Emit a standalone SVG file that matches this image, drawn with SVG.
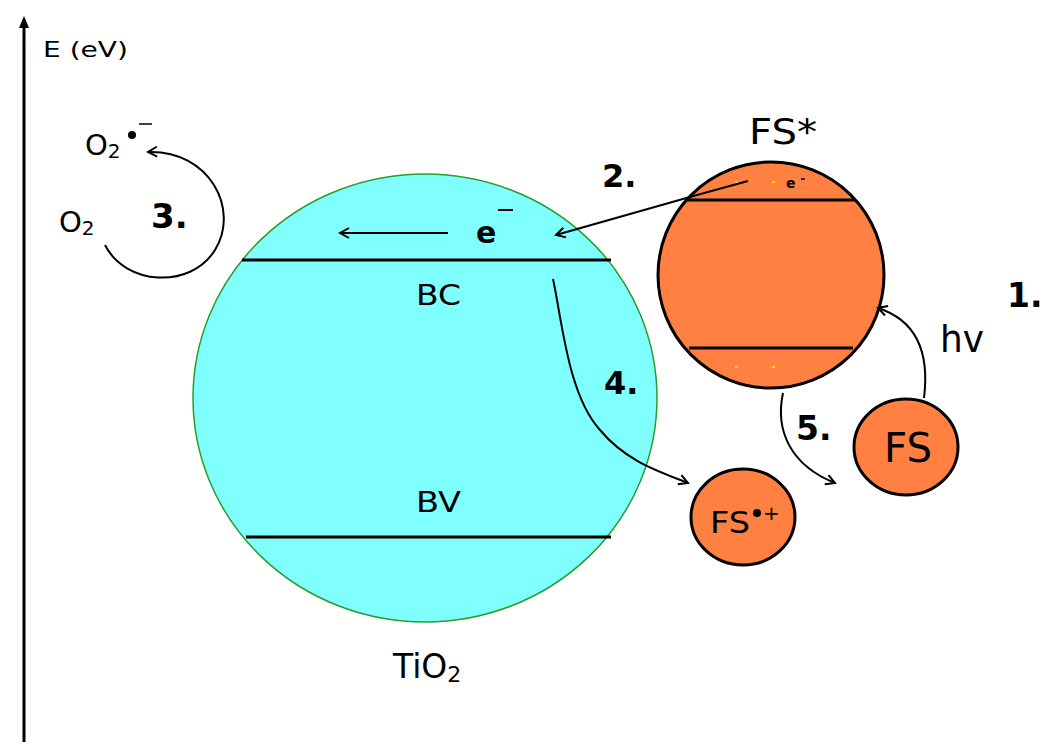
<svg xmlns="http://www.w3.org/2000/svg" width="1055" height="742" viewBox="0 0 1055 742">
<defs>
<marker id="ah" markerWidth="12" markerHeight="12" refX="10" refY="6" orient="auto" markerUnits="userSpaceOnUse">
<path d="M1,1 L10,6 L1,11" fill="none" stroke="#000" stroke-width="2"/>
</marker>
<marker id="tri" markerWidth="12" markerHeight="12" refX="6" refY="6" orient="auto" markerUnits="userSpaceOnUse">
<path d="M0,1 L12,6 L0,11 z" fill="#000"/>
</marker>
</defs>
<style>
text{font-family:"DejaVu Sans",Verdana,sans-serif;fill:#000}
.b{font-weight:bold}
.ln{stroke:#000;stroke-width:3;fill:none}
.c{stroke:#000;stroke-width:2;fill:none}
.org{fill:#FF8040;stroke:#000;stroke-width:3}
.y{fill:#FFE000}
</style>
<rect width="1055" height="742" fill="#fff"/>
<g id="axis">
<line x1="24" y1="742" x2="24" y2="22" stroke="#000" stroke-width="3" marker-end="url(#tri)"/>
<text x="43" y="57" font-size="21" textLength="85" lengthAdjust="spacingAndGlyphs">E (eV)</text>
</g>
<g id="tio2">
<ellipse cx="425" cy="398" rx="232" ry="224" fill="#80FFFF" stroke="#2a9d2a" stroke-width="1.5"/>
<line class="ln" x1="242" y1="260" x2="611" y2="260"/>
<line class="ln" x1="246" y1="537" x2="611" y2="537"/>
<text x="416" y="305" font-size="29" textLength="45" lengthAdjust="spacingAndGlyphs">BC</text>
<text x="416" y="512" font-size="29" textLength="45" lengthAdjust="spacingAndGlyphs">BV</text>
<text x="393" y="678" font-size="33">TiO<tspan font-size="22" dy="4">2</tspan></text>
<text x="476" y="243" font-size="30" class="b">e</text>
<line x1="498" y1="210" x2="513" y2="210" stroke="#000" stroke-width="2"/>
</g>
<g id="fsstar">
<circle cx="771" cy="275" r="113" class="org"/>
<line class="ln" x1="687" y1="200" x2="855" y2="200"/>
<line class="ln" x1="689" y1="348" x2="853" y2="348"/>
<text x="749" y="144" font-size="35" textLength="68" lengthAdjust="spacingAndGlyphs">FS*</text>
<text x="786" y="188" font-size="14" class="b">e</text>
<line x1="801" y1="179" x2="805" y2="179" stroke="#000" stroke-width="1.5"/>
<rect class="y" x="735" y="181" width="3" height="2"/>
<rect class="y" x="772" y="181" width="3" height="2"/>
<rect class="y" x="735" y="366" width="3" height="2"/>
<rect class="y" x="772" y="366" width="3" height="2"/>
</g>
<g id="fs">
<ellipse cx="906" cy="447" rx="52" ry="48" class="org"/>
<text x="884" y="462" font-size="40" textLength="48" lengthAdjust="spacingAndGlyphs">FS</text>
</g>
<g id="fsplus">
<ellipse cx="743" cy="517" rx="52" ry="48" class="org"/>
<text x="710" y="533" font-size="31" textLength="40" lengthAdjust="spacingAndGlyphs">FS</text>
<circle cx="757" cy="513" r="4" fill="#000"/>
<text x="763" y="520" font-size="20">+</text>
</g>
<g id="o2">
<text x="59" y="232" font-size="29">O<tspan font-size="20" dy="3">2</tspan></text>
<text x="85" y="155" font-size="29">O<tspan font-size="20" dy="3">2</tspan></text>
<circle cx="132" cy="135" r="4" fill="#000"/>
<line x1="139" y1="124" x2="152" y2="124" stroke="#000" stroke-width="1.5"/>
</g>
<g id="labels">
<text x="1007" y="307" font-size="33" class="b">1.</text>
<text x="602" y="187" font-size="32" class="b">2.</text>
<text x="151" y="228" font-size="34" class="b">3.</text>
<text x="604" y="394" font-size="32" class="b">4.</text>
<text x="796" y="440" font-size="33" class="b">5.</text>
<text x="940" y="352" font-size="38" textLength="44" lengthAdjust="spacingAndGlyphs">hv</text>
</g>
<g id="connectors">
<path class="c" d="M448,233 L340,233" marker-end="url(#ah)" stroke-width="2.5"/>
<path class="c" d="M748,181 L697,195 L556,235" marker-end="url(#ah)" stroke-width="2.5"/>
<path class="c" d="M105,245 C125,285 190,290 215,250 C240,210 210,150 148,152" marker-end="url(#ah)" stroke-width="1.5"/>
<path class="c" d="M553,279 C562,320 568,395 600,430 C625,460 655,470 688,483" marker-end="url(#ah)"/>
<path class="c" d="M783,393 C775,430 790,465 835,483" marker-end="url(#ah)"/>
<path class="c" d="M924,398 C930,350 915,320 878,308" marker-end="url(#ah)"/>
</g>
</svg>
